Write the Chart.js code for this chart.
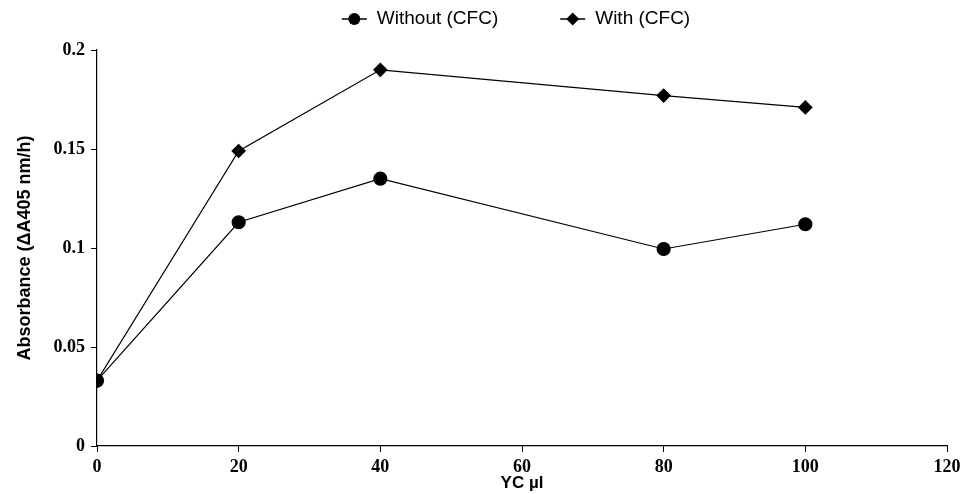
<!DOCTYPE html>
<html>
<head>
<meta charset="utf-8">
<script src="https://cdn.jsdelivr.net/npm/chart.js@4.4.1/dist/chart.umd.min.js"></script>
<style>
  html, body { margin: 0; padding: 0; background: #fff; }
  #wrap { width: 967px; height: 494px; position: relative; }
</style>
</head>
<body>
<div id="wrap"><canvas id="c"></canvas></div>
<script>
const xValues = [0, 20, 40, 80, 100];
const withoutCFC = [0.033, 0.113, 0.135, 0.0995, 0.112];
const withCFC = [0.033, 0.149, 0.190, 0.177, 0.171];
const seriesLabels = ['Without (CFC)', 'With (CFC)'];
const xTitle = 'YC \u00b5l';
const yTitle = 'Absorbance (\u0394A405 nm/h)';

const toPts = arr => arr.map((v, i) => ({ x: xValues[i], y: v }));

// Legend drawn above the plot: line + marker, then the series label
const topLegend = {
  id: 'topLegend',
  afterDraw(chart) {
    const ctx = chart.ctx;
    const ca = chart.chartArea;
    ctx.save();
    ctx.font = '19px "Liberation Sans", Arial, sans-serif';
    const iconW = 25, gapText = 10, gapItem = 62;
    const ds = chart.data.datasets;
    const widths = ds.map(d => ctx.measureText(d.label).width);
    const total = widths.reduce((s, w) => s + iconW + gapText + w, 0) + gapItem * (ds.length - 1);
    let x = (ca.left + ca.right) / 2 - 6 - total / 2;
    const y = 19;
    ds.forEach((d, i) => {
      ctx.strokeStyle = '#000';
      ctx.lineWidth = 1.5;
      ctx.beginPath(); ctx.moveTo(x, y); ctx.lineTo(x + iconW, y); ctx.stroke();
      const cx = x + iconW / 2;
      ctx.fillStyle = '#000';
      ctx.beginPath();
      if (d.pointStyle === 'circle') {
        ctx.arc(cx, y, 6, 0, Math.PI * 2);
      } else {
        ctx.moveTo(cx, y - 6.5); ctx.lineTo(cx + 6.5, y); ctx.lineTo(cx, y + 6.5); ctx.lineTo(cx - 6.5, y); ctx.closePath();
      }
      ctx.fill();
      ctx.textBaseline = 'middle';
      ctx.textAlign = 'left';
      ctx.fillText(d.label, x + iconW + gapText, y);
      x += iconW + gapText + widths[i] + gapItem;
    });
    ctx.restore();
  }
};

new Chart(document.getElementById('c'), {
  type: 'line',
  data: {
    datasets: [
      {
        label: seriesLabels[0],
        data: toPts(withoutCFC),
        borderColor: '#000', backgroundColor: '#000',
        borderWidth: 1.2, pointStyle: 'circle', pointRadius: 6.5,
        pointHoverRadius: 6.5, tension: 0
      },
      {
        label: seriesLabels[1],
        data: toPts(withCFC),
        borderColor: '#000', backgroundColor: '#000',
        borderWidth: 1.2, pointStyle: 'rectRot', pointRadius: 6.5,
        pointHoverRadius: 6.5, tension: 0
      }
    ]
  },
  plugins: [topLegend],
  options: {
    responsive: true,
    maintainAspectRatio: false,
    animation: false,
    layout: { padding: { left: 0, right: 20, top: 50, bottom: 0 } },
    plugins: {
      tooltip: { enabled: false },
      legend: { display: false }
    },
    scales: {
      x: {
        type: 'linear',
        min: 0, max: 120,
        ticks: {
          stepSize: 20, color: '#000', padding: 5,
          font: { family: '"Liberation Serif", "Times New Roman", serif', size: 18, weight: 'bold' }
        },
        grid: { display: true, drawOnChartArea: false, drawTicks: true, tickLength: 6, color: '#000', lineWidth: 1 },
        border: { display: true, color: '#000', width: 1.2 },
        title: {
          display: true, text: xTitle, color: '#000', padding: { top: 0, bottom: 0 },
          font: { family: '"Liberation Sans", Arial, sans-serif', size: 17, weight: 'bold' }
        },
        afterFit: s => { s.height = 48; }
      },
      y: {
        min: 0, max: 0.2,
        ticks: {
          stepSize: 0.05, color: '#000', padding: 6,
          callback: v => String(Math.round(v * 100) / 100),
          font: { family: '"Liberation Serif", "Times New Roman", serif', size: 18, weight: 'bold' }
        },
        grid: { display: true, drawOnChartArea: false, drawTicks: true, tickLength: 6, color: '#000', lineWidth: 1 },
        border: { display: true, color: '#000', width: 1.2 },
        title: {
          display: true, text: yTitle, color: '#000', padding: { top: 14, bottom: 0 },
          font: { family: '"Liberation Sans", Arial, sans-serif', size: 18, weight: 'bold' }
        },
        afterFit: s => { s.width = 97; }
      }
    }
  }
});
</script>
</body>
</html>
